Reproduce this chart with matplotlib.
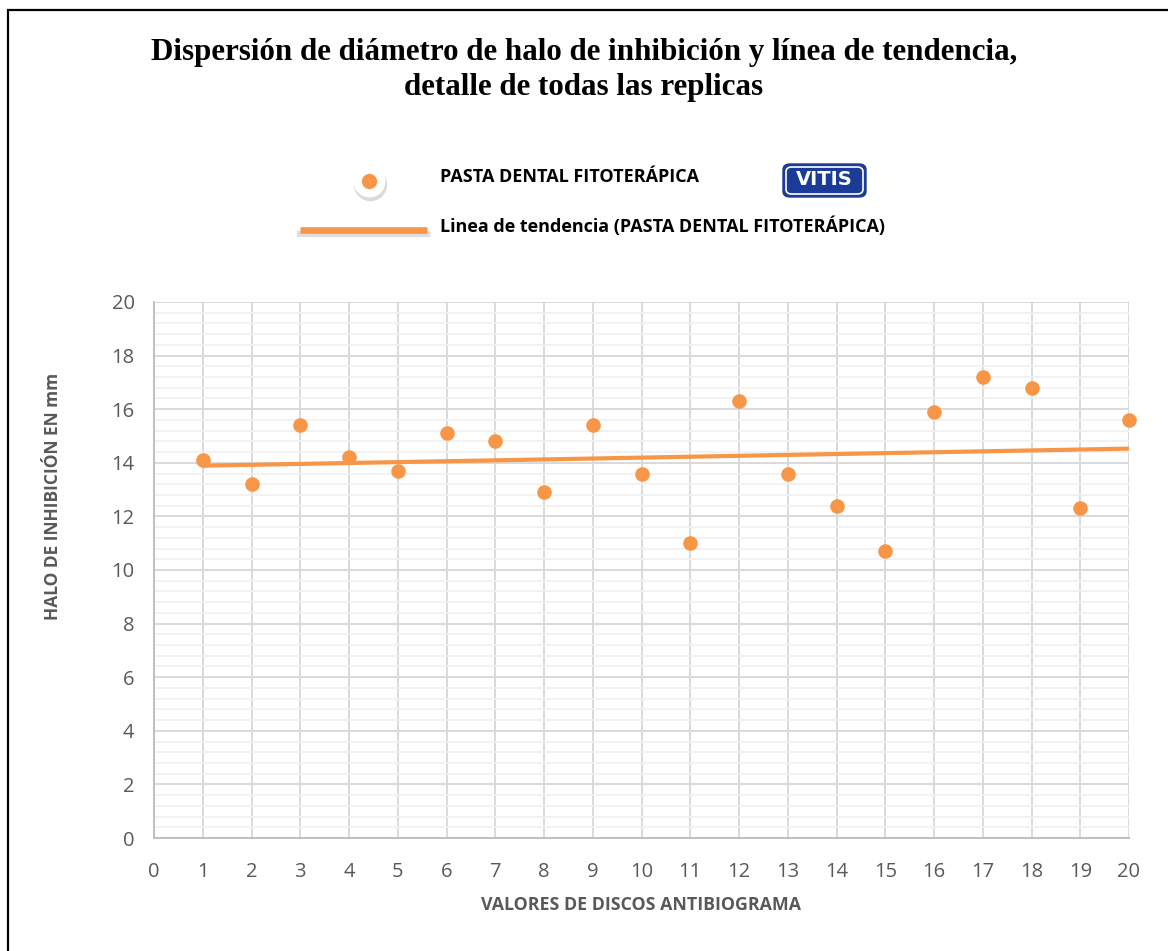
import numpy as np
import matplotlib
matplotlib.use("Agg")
import matplotlib.pyplot as plt
from matplotlib.patches import Rectangle, FancyBboxPatch
from matplotlib.lines import Line2D
from matplotlib.ticker import MultipleLocator

# ---------------- data ----------------
discos = [1, 2, 3, 4, 5, 6, 7, 8, 9, 10, 11, 12, 13, 14, 15, 16, 17, 18, 19, 20]
halo_mm = [14.1, 13.2, 15.4, 14.2, 13.7, 15.1, 14.8, 12.9, 15.4, 13.6,
           11.0, 16.3, 13.6, 12.4, 10.7, 15.9, 17.2, 16.8, 12.3, 15.6]
x_ticks = list(range(0, 21))
y_ticks = list(range(0, 21, 2))

title = "Dispersión de diámetro de halo de inhibición y línea de tendencia,\ndetalle de todas las replicas"
serie_label = "PASTA DENTAL FITOTERÁPICA"
trend_label = "Linea de tendencia (PASTA DENTAL FITOTERÁPICA)"
xlabel = "VALORES DE DISCOS ANTIBIOGRAMA"
ylabel = "HALO DE INHIBICIÓN EN mm"

ORANGE = "#F79646"
TICK_GRAY = "#595959"
W, H = 1168, 951

fig = plt.figure(figsize=(W / 100, H / 100), dpi=100)
fig.patch.set_facecolor("white")

# outer frame
fig.patches.append(Rectangle((8 / W, -0.05), 1.2, 1 - 10 / H + 0.05,
                             transform=fig.transFigure, fill=False,
                             edgecolor="black", linewidth=1.6, zorder=0))

ax = fig.add_axes([154 / W, 1 - 838 / H, (1129 - 154) / W, (838 - 302) / H])
ax.set_xlim(0, 20)
ax.set_ylim(0, 20)
ax.yaxis.set_minor_locator(MultipleLocator(0.4))
ax.set_xticks(x_ticks)
ax.set_yticks(y_ticks)

ax.grid(True, which="major", axis="both", color="#D9D9D9", linewidth=1.4, zorder=0)
ax.grid(True, which="minor", axis="y", color="#F0F0F0", linewidth=1.2, zorder=0)
ax.set_axisbelow(True)
for s in ["top", "right"]:
    ax.spines[s].set_visible(False)
for s in ["left", "bottom"]:
    ax.spines[s].set_color("#BFBFBF")
    ax.spines[s].set_linewidth(1.4)

ax.tick_params(axis="both", which="both", length=0, labelsize=14.5, labelcolor=TICK_GRAY)
ax.tick_params(axis="x", pad=17)
ax.tick_params(axis="y", pad=14)
for lab in ax.get_xticklabels() + ax.get_yticklabels():
    lab.set_fontfamily("Open Sans")

# scatter
ax.scatter(discos, halo_mm, s=110, color=ORANGE, zorder=4, clip_on=False, linewidths=0)

# trend line (least squares fit of the data)
coef = np.polyfit(discos, halo_mm, 1)
xt = np.array([discos[0], discos[-1]])
ax.plot(xt, np.polyval(coef, xt), color=ORANGE, linewidth=3, zorder=3,
        solid_capstyle="butt")

# axis titles
fig.text(641 / W, 1 - 905 / H, xlabel, ha="center", va="center",
         fontsize=12.8, fontweight="bold", color=TICK_GRAY, fontfamily="Open Sans")
fig.text(53 / W, 1 - 496 / H, ylabel, ha="center", va="center", rotation=90,
         fontsize=12.5, fontweight="bold", color=TICK_GRAY, fontfamily="Open Sans")

# title
fig.text(584 / W, 1 - 70 / H, title, ha="center", va="center",
         fontsize=22.3, fontweight="bold", fontfamily="Liberation Serif",
         linespacing=1.3)

# legend (manual)
mx, my = 369 / W, 1 - 181 / H
fig.add_artist(Line2D([mx + 0.5 / W], [my - 3 / H], marker="o", markersize=24,
                      color="#BDBDBD", markeredgewidth=0, alpha=0.55,
                      transform=fig.transFigure))
fig.add_artist(Line2D([mx], [my], marker="o", markersize=23,
                      color="white", markeredgewidth=0,
                      transform=fig.transFigure))
fig.add_artist(Line2D([mx], [my], marker="o", markersize=11,
                      color=ORANGE, markeredgewidth=0,
                      transform=fig.transFigure))
fig.text(440 / W, 1 - 177 / H, serie_label, ha="left", va="center",
         fontsize=13, fontweight="bold", fontfamily="Open Sans", color="black")

fig.add_artist(Line2D([300 / W, 427 / W], [1 - 234 / H, 1 - 234 / H],
                      color="#C8C8C8", linewidth=4.5, alpha=0.6,
                      transform=fig.transFigure))
fig.add_artist(Line2D([300 / W, 427 / W], [1 - 230 / H, 1 - 230 / H],
                      color=ORANGE, linewidth=4.8, solid_capstyle="butt",
                      transform=fig.transFigure))
fig.text(440 / W, 1 - 226 / H, trend_label, ha="left", va="center",
         fontsize=13, fontweight="bold", fontfamily="Open Sans", color="black")

# VITIS logo
lx0, ly0, lw, lh = 783, 164, 83, 33
fig.patches.append(FancyBboxPatch((lx0 / W, 1 - (ly0 + lh) / H), lw / W, lh / H,
                                  boxstyle="round,pad=0,rounding_size=0.006",
                                  transform=fig.transFigure,
                                  facecolor="#1B3C96", edgecolor="#1B3C96", linewidth=1))
fig.patches.append(FancyBboxPatch(((lx0 + 3) / W, 1 - (ly0 + lh - 3) / H), (lw - 6) / W, (lh - 6) / H,
                                  boxstyle="round,pad=0,rounding_size=0.005",
                                  transform=fig.transFigure,
                                  facecolor="#1B3C96", edgecolor="white", linewidth=1.2))
fig.text((lx0 + lw / 2) / W, 1 - (ly0 + lh / 2 - 0.5) / H, "VITIS", ha="center", va="center",
         fontsize=14, fontweight="bold", fontfamily="DejaVu Sans", color="white")

fig.savefig("out.png", dpi=100, facecolor="white")
